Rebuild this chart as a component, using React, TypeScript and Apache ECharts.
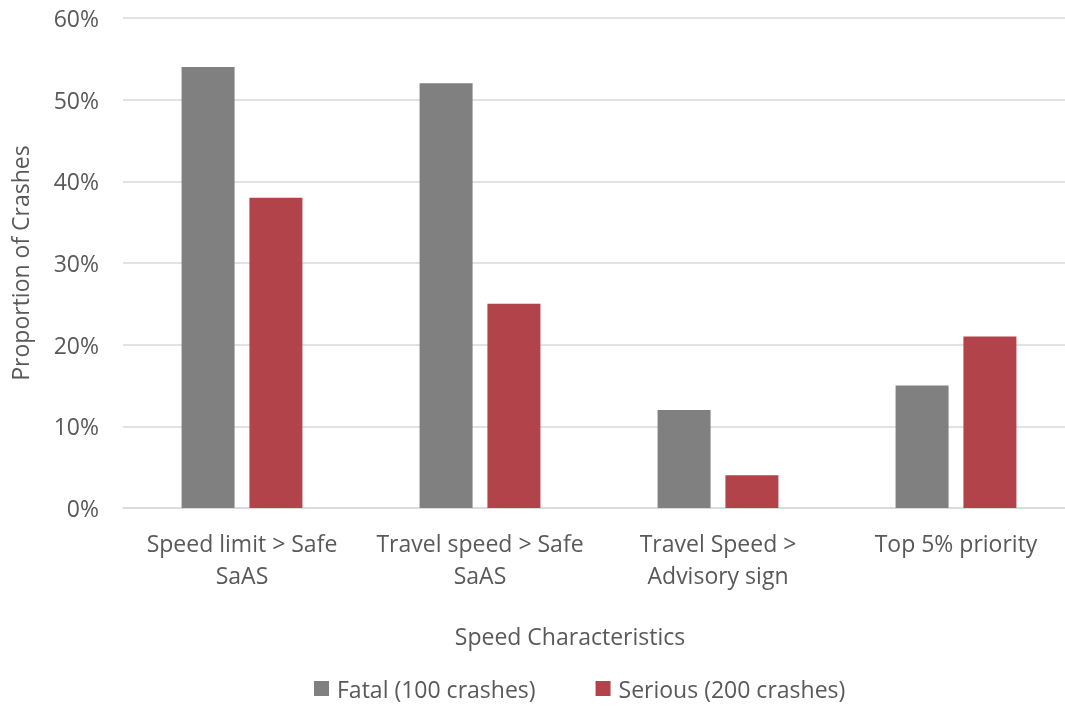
import React, { useEffect, useRef } from "react";
import * as echarts from "echarts";

const categories = [
  "Speed limit > Safe\nSaAS",
  "Travel speed > Safe\nSaAS",
  "Travel Speed >\nAdvisory sign",
  "Top 5% priority",
];
const fatal = [54, 52, 12, 15];
const serious = [38, 25, 4, 21];
const yTicks = { min: 0, max: 60, interval: 10 };

const FONT = "'Open Sans', sans-serif";
const TEXT = "#595959";
const FS = 23;

export default function App() {
  const ref = useRef<HTMLDivElement>(null);
  useEffect(() => {
    if (!ref.current) return;
    const chart = echarts.init(ref.current, null, { renderer: "svg" });
    chart.setOption({
      animation: false,
      textStyle: { fontFamily: FONT, color: TEXT },
      // category band is 238px wide; the plot runs slightly past the right edge
      grid: {
        left: 123,
        right: -10,
        top: 18,
        bottom: 203,
        containLabel: false,
        outerBoundsMode: "none",
      },
      legend: {
        left: 314,
        top: 677,
        padding: 0,
        itemWidth: 15,
        itemHeight: 15,
        itemGap: 60,
        icon: "rect",
        textStyle: { fontFamily: FONT, fontSize: FS, color: TEXT, padding: [0, 0, 0, 3] },
        data: ["Fatal (100 crashes)", "Serious (200 crashes)"],
      },
      graphic: [
        {
          type: "text",
          x: 570,
          y: 636,
          style: {
            text: "Speed Characteristics",
            font: `${FS}px ${FONT}`,
            fill: TEXT,
            align: "center",
            verticalAlign: "middle",
          },
        },
      ],
      xAxis: {
        type: "category",
        data: categories,
        axisLine: { show: true, lineStyle: { color: "#d9d9d9", width: 1.5 } },
        axisTick: { show: false },
        axisLabel: {
          fontFamily: FONT,
          fontSize: FS,
          color: TEXT,
          lineHeight: 32,
          margin: 19,
          interval: 0,
        },
      },
      yAxis: {
        type: "value",
        ...yTicks,
        name: "Proportion of Crashes",
        nameLocation: "middle",
        nameGap: 92,
        nameTextStyle: { fontFamily: FONT, fontSize: FS, color: TEXT },
        axisLine: { show: false },
        axisTick: { show: false },
        splitLine: { lineStyle: { color: "#d9d9d9", width: 1.5 } },
        axisLabel: {
          fontFamily: FONT,
          fontSize: FS,
          color: TEXT,
          margin: 24,
          formatter: (v: number) => `${v}%`,
        },
      },
      series: [
        {
          name: "Fatal (100 crashes)",
          type: "bar",
          data: fatal,
          barWidth: 53,
          barGap: "28%",
          itemStyle: { color: "#808080" },
        },
        {
          name: "Serious (200 crashes)",
          type: "bar",
          data: serious,
          barWidth: 53,
          itemStyle: { color: "#b2434a" },
        },
      ],
    });
    return () => chart.dispose();
  }, []);
  return (
    <div
      ref={ref}
      style={{ position: "fixed", left: 0, top: 0, width: 1065, height: 711, overflow: "hidden" }}
    />
  );
}
